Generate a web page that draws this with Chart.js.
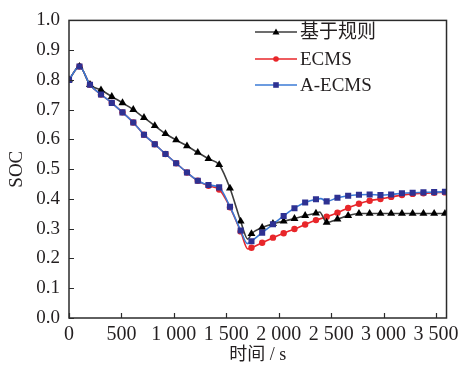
<!DOCTYPE html>
<html>
<head>
<meta charset="utf-8">
<script src="https://cdn.jsdelivr.net/npm/chart.js@4.4.0/dist/chart.umd.min.js"></script>
<style>
  html, body { margin: 0; padding: 0; background: #fff; }
</style>
</head>
<body>
<canvas id="socChart" width="464" height="367"></canvas>
<script>
// Marker positions (s) shared by all three curves
const markerTimes = [0, 100, 200, 305, 408, 510, 613, 715, 818, 920, 1022, 1125, 1228, 1330, 1432,
    1535, 1637, 1740, 1842, 1945, 2047, 2150, 2252, 2355, 2457, 2560, 2662, 2765, 2867, 2970,
    3072, 3175, 3277, 3380, 3482, 3585];

// 基于规则 (rule based)
const ruleTimes = [0, 100, 200, 305, 408, 510, 613, 715, 818, 920, 1022, 1125, 1228, 1330, 1432,
    1535, 1637, 1705, 1740, 1842, 1945, 2047, 2150, 2252, 2355, 2390, 2457, 2560, 2662, 2765, 2867, 2970,
    3072, 3175, 3277, 3380, 3482, 3585];
const ruleSoc = [0.80, 0.845, 0.784, 0.766, 0.744, 0.723, 0.700, 0.673, 0.646, 0.619, 0.598, 0.578, 0.556, 0.535, 0.515,
    0.436, 0.325, 0.265, 0.283, 0.304, 0.317, 0.325, 0.334, 0.344, 0.352, 0.356, 0.321, 0.332, 0.344, 0.351, 0.351, 0.351,
    0.351, 0.351, 0.351, 0.351, 0.351, 0.351];

// ECMS
const ecmsTimes = [0, 100, 200, 305, 408, 510, 613, 715, 818, 920, 1022, 1125, 1228, 1330, 1432,
    1535, 1637, 1705, 1740, 1842, 1945, 2047, 2150, 2252, 2355, 2457, 2560, 2662, 2765, 2867, 2970,
    3072, 3175, 3277, 3380, 3482, 3585];
const ecmsSoc = [0.80, 0.845, 0.784, 0.751, 0.723, 0.691, 0.657, 0.616, 0.584, 0.551, 0.520, 0.489, 0.461, 0.444, 0.432,
    0.372, 0.291, 0.232, 0.236, 0.253, 0.270, 0.285, 0.299, 0.314, 0.329, 0.340, 0.354, 0.370, 0.384, 0.394, 0.400,
    0.407, 0.413, 0.417, 0.419, 0.421, 0.422];

// A-ECMS
const aecmsTimes = [0, 100, 200, 305, 408, 510, 613, 715, 818, 920, 1022, 1125, 1228, 1330, 1432,
    1535, 1637, 1700, 1740, 1842, 1945, 2047, 2150, 2252, 2355, 2400, 2457, 2560, 2662, 2765, 2867, 2970,
    3072, 3175, 3277, 3380, 3482, 3585];
const aecmsSoc = [0.80, 0.845, 0.784, 0.751, 0.723, 0.691, 0.657, 0.616, 0.584, 0.551, 0.520, 0.489, 0.461, 0.447, 0.439,
    0.374, 0.294, 0.250, 0.258, 0.287, 0.315, 0.343, 0.369, 0.388, 0.399, 0.401, 0.392, 0.404, 0.411, 0.414, 0.415, 0.413,
    0.415, 0.419, 0.421, 0.422, 0.423, 0.424];

const xTickValues = [0, 500, 1000, 1500, 2000, 2500, 3000, 3500];
const yTickValues = [0, 0.1, 0.2, 0.3, 0.4, 0.5, 0.6, 0.7, 0.8, 0.9, 1.0];

const serif = "'Liberation Serif', 'Times New Roman', 'Noto Sans CJK SC', serif";
const textColor = '#231f20';

function toPoints(times, values) {
    return times.map((t, i) => ({ x: t, y: values[i] }));
}

// only show markers at the sampled marker times
function markerRadius(r) {
    return ctx => markerTimes.includes(ctx.raw.x) ? r : 0;
}

function formatThousands(v) {
    const s = String(v);
    if (s.length <= 3) return s;
    return s.slice(0, s.length - 3) + ' ' + s.slice(s.length - 3);
}

const series = [
    { label: '基于规则', data: toPoints(ruleTimes, ruleSoc), line: '#3d3d3d', mark: '#000000', style: 'triangle', r: 4.6, order: 1 },
    { label: 'ECMS', data: toPoints(ecmsTimes, ecmsSoc), line: '#e8262a', mark: '#e8262a', style: 'circle', r: 3.2, order: 2 },
    { label: 'A-ECMS', data: toPoints(aecmsTimes, aecmsSoc), line: '#3b7bd6', mark: '#2e3192', style: 'rect', r: 4.3, order: 0 }
];

// frame, inward ticks and legend
const decorations = {
    id: 'decorations',
    afterDraw(chart) {
        const ctx = chart.ctx;
        const area = chart.chartArea;
        const xs = chart.scales.x;
        const ys = chart.scales.y;
        ctx.save();
        ctx.strokeStyle = '#2b2b2b';
        ctx.lineWidth = 1.5;
        ctx.strokeRect(area.left, area.top, area.right - area.left, area.bottom - area.top);
        ctx.lineWidth = 1.2;
        ctx.beginPath();
        yTickValues.forEach(v => {
            const py = Math.round(ys.getPixelForValue(v)) + 0.5;
            ctx.moveTo(area.left, py);
            ctx.lineTo(area.left + 5, py);
        });
        xTickValues.forEach(v => {
            const px = Math.round(xs.getPixelForValue(v)) + 0.5;
            ctx.moveTo(px, area.bottom);
            ctx.lineTo(px, area.bottom - 5);
        });
        ctx.stroke();

        // legend
        const lx0 = 255, lx1 = 297, rows = [32, 59, 85];
        ctx.font = '19px ' + serif;
        ctx.textBaseline = 'middle';
        ctx.textAlign = 'left';
        series.forEach((s, i) => {
            const y = rows[i];
            ctx.strokeStyle = s.line;
            ctx.lineWidth = 1.6;
            ctx.beginPath();
            ctx.moveTo(lx0, y);
            ctx.lineTo(lx1, y);
            ctx.stroke();
            ctx.fillStyle = s.mark;
            const mx = (lx0 + lx1) / 2;
            ctx.beginPath();
            if (s.style === 'triangle') {
                ctx.moveTo(mx, y - 3.5);
                ctx.lineTo(mx + 3.5, y + 2.5);
                ctx.lineTo(mx - 3.5, y + 2.5);
                ctx.closePath();
            } else if (s.style === 'circle') {
                ctx.arc(mx, y, 2.8, 0, Math.PI * 2);
            } else {
                ctx.rect(mx - 2.8, y - 2.8, 5.6, 5.6);
            }
            ctx.fill();
            ctx.fillStyle = textColor;
            ctx.fillText(s.label, lx1 + 3, y + 1);
        });
        ctx.restore();
    }
};

new Chart(document.getElementById('socChart').getContext('2d'), {
    type: 'line',
    data: {
        datasets: series.map(s => ({
            label: s.label,
            data: s.data,
            order: s.order,
            borderColor: s.line,
            borderWidth: 1.6,
            backgroundColor: s.mark,
            pointBackgroundColor: s.mark,
            pointBorderColor: s.mark,
            pointBorderWidth: 0,
            pointStyle: s.style,
            pointRadius: markerRadius(s.r),
            cubicInterpolationMode: 'monotone',
            fill: false
        }))
    },
    options: {
        responsive: false,
        animation: false,
        events: [],
        layout: { padding: { top: 13, right: 17, left: 0, bottom: 0 } },
        plugins: {
            legend: { display: false },
            tooltip: { enabled: false }
        },
        scales: {
            x: {
                type: 'linear',
                min: 0,
                max: 3600,
                grid: { display: false, drawTicks: false },
                border: { display: false },
                afterBuildTicks: scale => { scale.ticks = xTickValues.map(v => ({ value: v })); },
                afterFit: scale => { scale.height = 49; },
                ticks: {
                    autoSkip: false,
                    maxRotation: 0,
                    padding: 5,
                    color: textColor,
                    font: { family: serif, size: 20 },
                    callback: v => formatThousands(v)
                },
                title: {
                    display: true,
                    text: '时间 / s',
                    color: textColor,
                    font: { family: serif, size: 18 },
                    padding: { top: 0, bottom: 1 }
                }
            },
            y: {
                min: 0,
                max: 1,
                grid: { display: false, drawTicks: false },
                border: { display: false },
                afterBuildTicks: scale => { scale.ticks = yTickValues.map(v => ({ value: v })); },
                afterFit: scale => { scale.width = 69; },
                ticks: {
                    padding: 9,
                    color: textColor,
                    font: { family: serif, size: 19 },
                    callback: v => v.toFixed(1)
                },
                title: {
                    display: true,
                    text: 'SOC',
                    color: textColor,
                    font: { family: serif, size: 19 },
                    padding: { top: 6, bottom: 0 }
                }
            }
        }
    },
    plugins: [decorations]
});
</script>
</body>
</html>
